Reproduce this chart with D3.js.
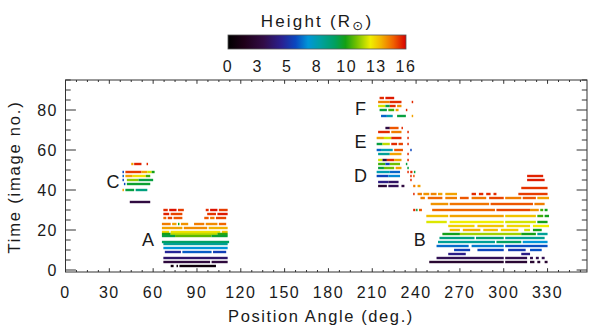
<!DOCTYPE html>
<html><head><meta charset="utf-8">
<script src="https://cdn.jsdelivr.net/npm/d3@7"></script>
<style>
body{margin:0;background:#fff;}
text{font-family:"Liberation Sans",Arial,sans-serif;fill:#1a1a1a;}
</style></head>
<body><svg id="c" width="598" height="332"></svg>
<script>
// ---------------- data ----------------
const xTickVals = [0,30,60,90,120,150,180,210,240,270,300,330];
const yTickVals = [0,20,40,60,80];
const cbTickVals = [0,2.67,5.33,8,10.67,13.33,16];
const cbTickLabels = ["0","3","5","8","10","13","16"];
const colorStops = [
 [0.00,"#000000"],[0.09,"#1e0018"],[0.20,"#320c46"],[0.30,"#2a2090"],[0.38,"#0a48c0"],
 [0.45,"#0096d8"],[0.52,"#00a0a0"],[0.60,"#00a060"],[0.66,"#14a014"],[0.72,"#70c000"],
 [0.80,"#f0ee00"],[0.86,"#f2b400"],[0.93,"#f06000"],[1.00,"#d80000"]];
const eventLabels = [["C",32.5,44.5],["A",56.5,15.5],["F",202,81],["E",202,64.5],["D",202,47.5],["B",242.5,15.5]];
// segments: [time (image no.), PA start, PA end, height (Rsun)]
const segC = [
 [53,45,46.5,14],[53,47,52,15.6],[53,55.5,56.5,15.5],
 [49,39,40,6],[49,41,52,15.3],[49,52,56,14],[49,56,59,12.5],[49,59,61,10.5],
 [47,39,40,6.5],[47,41,46,14],[47,46,55,13],[47,55,58,11],
 [45,39,40,6],[45,42,50,11.8],[45,50,60,10],
 [43,40,41,6],[43,42,58,10.2],
 [40,39,40,14],[40,41,47,10],[40,48,56,9],
 [34,44,58,3]];
const segA = [
 [30,67,70,15.5],[30,71,76,15.8],[30,77,81,15.3],[30,96,98,15.5],[30,99,104,15.8],[30,105,111,15.3],
 [28,67,71,15.6],[28,72,80,15.2],[28,97,103,15.4],[28,104,111,15.7],
 [26,67,69,14.8],[26,70,73,15.2],[26,74,80,15],[26,95,98,15],[26,99,102,14.6],[26,103,110,15.2],
 [23,66,72,14.5],[23,73,76,14],[23,77,78,10.5],[23,79,84,14.2],[23,88,95,14.5],[23,96,104,14.3],[23,105,110,14.8],
 [21,66,80,14],[21,81,97,14.3],[21,98,111,13.8],
 [19,66,71,13.2],[19,72,106,13],[19,107,111,13.5],
 [18,66,72,10.5],[18,72,104,12.3],[18,104,111,10.8],
 [17,66,75,10],[17,75,100,11.3],[17,100,111,10.2],
 [14,66,112,9.6],
 [13,67,111,8.6],
 [11,67,111,7.2],
 [9,68,79,5],[9,80,100,6.4],[9,101,110,5.8],
 [6,67,111,4],
 [4,67,99,2.9],[4,100,111,2.9],
 [2,72,74,0.8],[2,76,77,0.8],[2,78,103,0.6]];
const segDEF = [
 [86,215,218,15.5],[86,219,225,15.7],
 [84,214,222,14.5],[84,222,230,15.5],[84,237,238,15.5],
 [82,214,219,12.5],[82,219,222,10],[82,222,226,15.5],[82,227,230,14.2],
 [80,215,220,10],[80,221,225,11],[80,226,228,14],[80,233,234,15.5],
 [77,216,220,6.5],[77,220,224,8],[77,227,233,10],[77,237,238,14],
 [71,219,222,3],[71,222,228,15],[71,230,231,15.5],
 [69,214,222,15.5],[69,223,230,14.5],[69,234,235,15.5],
 [66,213,218,14],[66,218,223,12.5],[66,223,230,15.5],[66,234,235,15.5],
 [63,213,217,10],[63,217,222,12.3],[63,223,227,15.5],[63,228,231,15.2],[63,234,235,15.5],
 [60,213,216,6.5],[60,216,224,8],[60,225,231,15],[60,236,237,6],
 [58,214,222,8.5],[58,222,230,14],[58,234,235,15.5],
 [55,214,217,12.5],[55,217,220,3],[55,220,225,15.5],[55,225,230,14],[55,234,235,15.5],
 [53,214,219,11],[53,219,222,6],[53,222,229,11.5],[53,233,234,10],
 [51,214,218,10],[51,218,225,11.5],[51,226,230,14],[51,234,235,10],
 [49,213,222,8],[49,222,229,6.5],[49,234,235,15.5],
 [47,213,221,6],[47,221,229,7],
 [44,214,221,4.5],[44,221,228,3.8],
 [42,214,220,2.5],[42,221,228,3.5],[42,230,232,3]];
const segB = [
 [49,236,237.5,15.5],[49,238.5,239.5,10],
 [47,236,237,15.5],[47,238,239,15],[47,316,327,15.6],
 [45,236,237,15.5],[45,316,328,15.7],
 [42,238,239.5,14.5],[42,241,243,14],
 [41,312,330,15.4],
 [38,238,239,15.5],[38,241,244,14.5],[38,245,249,14.2],[38,250,254,14.4],[38,255,258,14],[38,260,268,14],
 [38,278,281,15.5],[38,283,286,15.5],[38,288,291,15.5],[38,293,295,15.5],[38,310,330,15.3],
 [36,243,246,14.5],[36,248,258,14.8],[36,260,268,14.5],[36,270,276,15],[36,278,288,14.6],[36,290,300,15.2],
 [36,301,312,14.5],[36,313,322,15],[36,323,331,14],
 [33,250,262,14.2],[33,263,290,14.6],[33,291,320,15],[33,321,328,14.5],
 [30,238,239.5,15.5],[30,240,241,10],[30,242,244,15],[30,251,294,14.8],[30,295,318,15.2],[30,318,324,14.2],
 [30,325,327,11],[30,328,330,10.5],
 [27,247,262,13.6],[27,263,300,14],[27,301,322,13.5],[27,323,327,11],[27,328,331,10.5],
 [24,247,261,12.6],[24,263,300,12.8],[24,301,322,12.5],[24,323,330,10.5],
 [22,262,280,13.3],[22,282,300,13.5],[22,302,318,13.2],[22,320,331,12.8],
 [20,263,270,13.6],[20,272,284,13.8],[20,286,296,13.6],[20,298,310,13.4],[20,314,318,12.5],[20,320,326,10.5],
 [18,258,270,10.5],[18,270,312,12],[18,312,322,10.5],[18,323,330,8.5],
 [16,256,280,9],[16,281,300,9.3],[16,301,328,8.6],
 [14,255,294,8.5],[14,295,312,9.5],[14,313,330,7.2],
 [12,254,276,6.6],[12,278,300,6.8],[12,301,330,6.2],
 [10,266,277,5.8],[10,282,300,6],[10,303,315,5.6],[10,318,326,6.2],
 [8,262,274,4.6],[8,312,318,4.6],
 [6,254,300,3.5],[6,301,316,3.4],[6,318,320,3.4],[6,322,324,3.4],[6,326,328,3.4],
 [4,249,300,2.4],[4,301,316,2.5],[4,318,321,2.4],[4,323,325,2.4],[4,328,330,2.4]];

// ---------------- drawing ----------------
const svg = d3.select("#c");
const x = d3.scaleLinear().domain([0,357]).range([65.5,587]);
const y = d3.scaleLinear().domain([-1,95]).range([272,80]);
const color = d3.scaleLinear().domain(colorStops.map(d=>d[0]*16)).range(colorStops.map(d=>d[1])).clamp(true);

const allSegs = [].concat(segC, segA, segDEF, segB);
svg.append("g").selectAll("rect").data(allSegs).join("rect")
  .attr("x", d=>x(d[1]))
  .attr("width", d=>Math.max(1.4, x(d[2])-x(d[1])))
  .attr("y", d=>y(d[0])-1.2)
  .attr("height", 2.4)
  .attr("fill", d=>color(d[3]));

// frame
const x0 = x.range()[0], x1 = x.range()[1], y0 = y.range()[0], y1 = y.range()[1];
svg.append("rect").attr("x",x0).attr("y",y1).attr("width",x1-x0).attr("height",y0-y1)
  .attr("fill","none").attr("stroke","#333").attr("stroke-width",1);

const tickStroke = "#333";
const xMinor = d3.range(0, 357, 7.5).filter(v=>v%30!==0);
const yMinor = d3.range(0, 96, 5).filter(v=>v%20!==0);
const gt = svg.append("g").attr("stroke",tickStroke).attr("stroke-width",1);
xTickVals.forEach(v=>{
  gt.append("line").attr("x1",x(v)).attr("x2",x(v)).attr("y1",y0).attr("y2",y0-3.8);
  gt.append("line").attr("x1",x(v)).attr("x2",x(v)).attr("y1",y1).attr("y2",y1+3.8);
});
xMinor.forEach(v=>{
  gt.append("line").attr("x1",x(v)).attr("x2",x(v)).attr("y1",y0).attr("y2",y0-2);
  gt.append("line").attr("x1",x(v)).attr("x2",x(v)).attr("y1",y1).attr("y2",y1+2);
});
yTickVals.forEach(v=>{
  gt.append("line").attr("y1",y(v)).attr("y2",y(v)).attr("x1",x0).attr("x2",x0+10.4);
  gt.append("line").attr("y1",y(v)).attr("y2",y(v)).attr("x1",x1).attr("x2",x1-10.4);
});
yMinor.forEach(v=>{
  gt.append("line").attr("y1",y(v)).attr("y2",y(v)).attr("x1",x0).attr("x2",x0+5.2);
  gt.append("line").attr("y1",y(v)).attr("y2",y(v)).attr("x1",x1).attr("x2",x1-5.2);
});

const fs = 16, ls = 1.5;
svg.append("g").selectAll("text").data(xTickVals).join("text")
  .attr("x", d=>x(d)).attr("y", 298).attr("text-anchor","middle")
  .attr("font-size",fs).attr("letter-spacing",ls).text(d=>d);
svg.append("g").selectAll("text").data(yTickVals).join("text")
  .attr("x", 58).attr("y", d=>y(d)+5.5).attr("text-anchor","end")
  .attr("font-size",fs).attr("letter-spacing",ls).text(d=>d);

svg.append("text").attr("x",321).attr("y",322).attr("text-anchor","middle")
  .attr("font-size",16.5).attr("letter-spacing",1.6).text("Position Angle (deg.)");
svg.append("text").attr("transform","translate(20,177) rotate(-90)").attr("text-anchor","middle")
  .attr("font-size",16.5).attr("letter-spacing",1.8).text("Time (image no.)");

// event labels
svg.append("g").selectAll("text").data(eventLabels).join("text")
  .attr("x", d=>x(d[1])).attr("y", d=>y(d[2])+6.5).attr("text-anchor","middle")
  .attr("font-size",18).text(d=>d[0]);

// colorbar
const cb = d3.scaleLinear().domain([0,16]).range([228,406]);
const defs = svg.append("defs");
const grad = defs.append("linearGradient").attr("id","cbg").attr("x1","0%").attr("x2","100%");
colorStops.forEach(s=>grad.append("stop").attr("offset",(s[0]*100)+"%").attr("stop-color",s[1]));
svg.append("rect").attr("x",cb(0)).attr("y",35).attr("width",cb(16)-cb(0)).attr("height",14)
  .attr("fill","url(#cbg)").attr("stroke","#555").attr("stroke-width",0.8);
svg.append("g").selectAll("text").data(cbTickVals).join("text")
  .attr("x",(d)=>cb(d)).attr("y",72).attr("text-anchor","middle")
  .attr("font-size",fs).attr("letter-spacing",ls).text((d,i)=>cbTickLabels[i]);
const title = svg.append("text").attr("x",317).attr("y",27).attr("text-anchor","middle")
  .attr("font-size",17).attr("letter-spacing",2.2);
title.append("tspan").text("Height (R");
title.append("tspan").attr("font-size",13).attr("dy",3).attr("font-family","DejaVu Sans").text("\u2299");
title.append("tspan").attr("dy",-3).text(")");
</script></body></html>
